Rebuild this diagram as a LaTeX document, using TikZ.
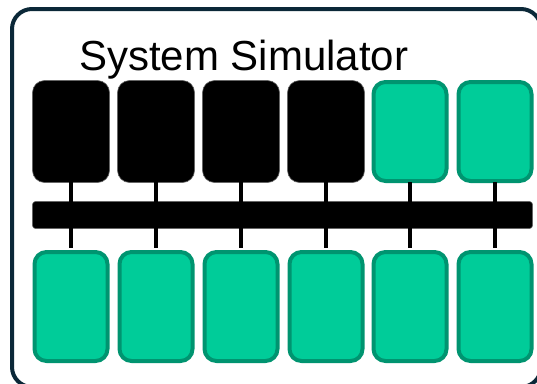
\documentclass[tikz,border=0pt]{standalone}
\usepackage{fontspec}
\setmainfont{Liberation Sans}
\definecolor{navy}{HTML}{0B2838}
\definecolor{mint}{HTML}{00CC99}
\definecolor{mintdark}{HTML}{009470}
\begin{document}
\begin{tikzpicture}[x=1pt,y=-1pt,
  blackbox/.style={rectangle,rounded corners=12pt,fill=black,draw=black!60,line width=0.6pt,minimum width=77pt,minimum height=102pt,inner sep=0pt},
  greenbox/.style={rectangle,rounded corners=12pt,fill=mint,draw=mintdark,line width=4pt,minimum width=73pt,minimum height=99pt,inner sep=0pt},
  lowbox/.style={greenbox,minimum height=109pt},
  wire/.style={line width=3.3pt,black},
  frame/.style={draw=navy,line width=4pt,rounded corners=20pt}]
\useasboundingbox (0,0) rectangle (537,383);
\fill[white] (0,0) rectangle (537,383);
\draw[frame] (12,9) rectangle (541,387);
\node[font=\fontsize{42}{50}\selectfont,anchor=base west,inner sep=0pt] (title) at (79,70.5) {System Simulator};
\node[blackbox] (t1) at (71,131.5) {};
\node[blackbox] (t2) at (156,131.5) {};
\node[blackbox] (t3) at (241,131.5) {};
\node[blackbox] (t4) at (326,131.5) {};
\node[greenbox] (t5) at (410,131.5) {};
\node[greenbox] (t6) at (495,131.5) {};
\node[rectangle,rounded corners=3pt,fill=black,draw=black!60,line width=0.6pt,minimum width=500pt,minimum height=27pt,inner sep=0pt] (bus) at (282.5,215) {};
\node[lowbox] (b1) at (71,306.5) {};
\node[lowbox] (b2) at (156,306.5) {};
\node[lowbox] (b3) at (241,306.5) {};
\node[lowbox] (b4) at (326,306.5) {};
\node[lowbox] (b5) at (410,306.5) {};
\node[lowbox] (b6) at (495,306.5) {};
\foreach \i in {1,...,6}{
  \draw[wire,shorten <=-1pt,shorten >=2pt] (t\i.south) -- (b\i.north);
}
\end{tikzpicture}
\end{document}
